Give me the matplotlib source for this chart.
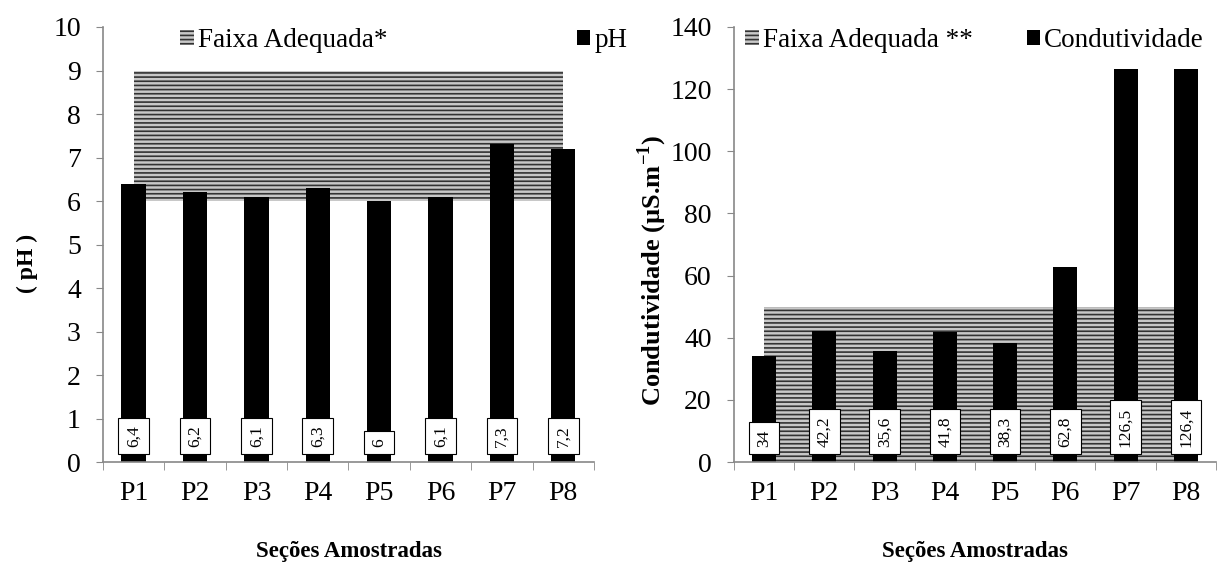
import matplotlib
matplotlib.use("Agg")
import matplotlib.pyplot as plt
from matplotlib.patches import Patch
import numpy as np

plt.rcParams["font.family"] = ["Liberation Serif", "DejaVu Serif"]
plt.rcParams["mathtext.fontset"] = "custom"
plt.rcParams["mathtext.rm"] = "Liberation Serif"
plt.rcParams["mathtext.bf"] = "Liberation Serif:bold"
plt.rcParams["hatch.color"] = "#333333"
plt.rcParams["hatch.linewidth"] = 1.2

secoes = ["P1", "P2", "P3", "P4", "P5", "P6", "P7", "P8"]
ph = [6.4, 6.2, 6.1, 6.3, 6.0, 6.1, 7.3, 7.2]
condutividade = [34, 42.2, 35.6, 41.8, 38.3, 62.8, 126.5, 126.4]
faixa_ph = (6, 9)
faixa_cond = (0, 50)

fig = plt.figure(figsize=(12.18, 5.66), dpi=100)
ax1 = fig.add_axes([0.0846, 0.1837, 0.403, 0.7686])
ax2 = fig.add_axes([0.6026, 0.1837, 0.3957, 0.7686])


def draw_panel(ax, values, faixa, ymax, ystep, ylabel, ylabel_size, faixa_label,
               serie_label, leg_x, col_space):
    x = np.arange(len(values))
    ax.fill_between(x, faixa[0], faixa[1], facecolor="#c8c8c8", edgecolor="none",
                    hatch="----", linewidth=0, zorder=1)
    ax.bar(x, values, width=0.4, color="black", zorder=2)

    for xi, v in zip(x, values):
        txt = f"{v:g}".replace(".", ",")
        ax.annotate(txt, xy=(xi, 0), xytext=(0, 11), textcoords="offset points",
                    rotation=90, ha="center", va="bottom", fontsize=12.5, zorder=4,
                    bbox=dict(boxstyle="square,pad=0.42", facecolor="white",
                              edgecolor="black", linewidth=0.8))

    ax.set_xlim(-0.5, len(values) - 0.5)
    ax.set_ylim(0, ymax)
    ax.set_yticks(np.arange(0, ymax + ystep / 2, ystep))
    ax.set_xticks(x)
    ax.set_xticklabels(secoes)
    ax.set_xticks(np.arange(-0.5, len(values)), minor=True)
    ax.tick_params(axis="x", which="major", length=0, pad=14, labelsize=20)
    ax.tick_params(axis="x", which="minor", length=6, color="#888888", direction="out")
    ax.tick_params(axis="y", length=5, color="#888888", labelsize=20, pad=11)

    for s in ["top", "right"]:
        ax.spines[s].set_visible(False)
    for s in ["left", "bottom"]:
        ax.spines[s].set_color("#888888")
        ax.spines[s].set_linewidth(1.2)

    ax.set_xlabel("Seções Amostradas", fontsize=16.5, fontweight="bold", labelpad=25)
    ax.set_ylabel(ylabel, fontsize=ylabel_size, fontweight="bold")

    handles = [
        Patch(facecolor="#c8c8c8", hatch="----", edgecolor="#333333", linewidth=0,
              label=faixa_label),
        Patch(facecolor="black", label=serie_label),
    ]
    ax.legend(handles=handles, loc="upper left", bbox_to_anchor=(leg_x, 0.998), ncol=2,
              frameon=False, fontsize=19.5, handlelength=0.5, handleheight=0.5,
              handletextpad=0.15, columnspacing=col_space, borderpad=0,
              borderaxespad=0)


draw_panel(ax1, ph, faixa_ph, 10, 1, "( pH )", 17, "Faixa Adequada*", "pH",
           0.157, 7.0)
draw_panel(ax2, condutividade, faixa_cond, 140, 20,
           r"Condutividade (µS.m$^{\mathbf{-1}}$)", 19, "Faixa Adequada **",
           "Condutividade", 0.023, 2.0)
ax1.yaxis.set_label_coords(-0.132, 0.457)
ax2.yaxis.set_label_coords(-0.135, 0.44)

fig.savefig("out.png", dpi=100)
plt.close(fig)
